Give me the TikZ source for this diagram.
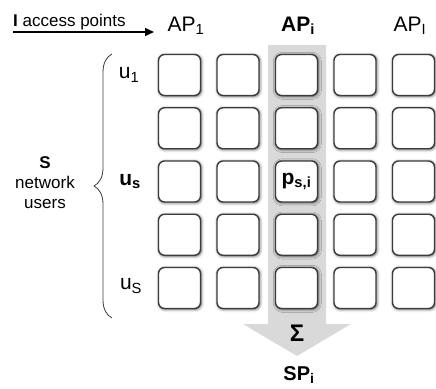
\documentclass[tikz,border=0pt]{standalone}
\usepackage{fontspec}
\setmainfont{Liberation Sans}
\usetikzlibrary{arrows.meta,shadows.blur,decorations.pathreplacing}

\definecolor{boxline}{HTML}{3C3C3C}
\definecolor{colshade}{HTML}{D9D9D9}

\tikzset{
  cell/.style={draw=boxline, line width=1.4pt, fill=white, rounded corners=6pt,
    minimum width=42pt, minimum height=41pt, inner sep=0pt,
    blur shadow={shadow xshift=0.8pt, shadow yshift=-0.8pt,
      shadow blur radius=3pt, shadow opacity=70}},
  lbl/.style={font=\fontsize{21}{25}\selectfont, inner sep=0pt},
  small/.style={font=\fontsize{17}{20}\selectfont, inner sep=0pt},
}

\begin{document}
\begin{tikzpicture}[x=1pt,y=-1pt]
  \useasboundingbox (0,0) rectangle (436,388);
  % shaded column and sum arrow
  \fill[colshade] (268,45) -- (326,45) -- (326,324) -- (351,324) -- (297,356)
    -- (243,324) -- (268,324) -- cycle;
  % grid of cells
  \foreach \r in {1,...,5}
    \foreach \c in {1,...,5}
      \node[cell] (B\r\c) at ({179.5+58.5*(\c-1)}, {75+53.25*(\r-1)}) {};
  \node[lbl, font=\bfseries\fontsize{21}{25}\selectfont] (P) at (B33) {p\textsubscript{s,i}};
  % access points
  \node[small, anchor=base west] (ACC) at (13,26) {\textbf{I} access points};
  \coordinate (AS) at (13,32);
  \coordinate (AE) at (154,32);
  \draw [-{Triangle[length=9pt,width=8pt]}, line width=1.4pt] (AS) -- (AE);
  \node[lbl, anchor=base] (AP1) at (186,31) {AP\textsubscript{1}};
  \node[lbl, anchor=base, font=\bfseries\fontsize{21}{25}\selectfont] (APi) at (298,31) {AP\textsubscript{i}};
  \node[lbl, anchor=base] (APl) at (410,31) {AP\textsubscript{I}};
  % users
  \node[lbl] (U1) at (129,75) {u\textsubscript{1}};
  \node[lbl, font=\bfseries\fontsize{21}{25}\selectfont] (Us) at (130,181.5) {u\textsubscript{s}};
  \node[lbl] (US) at (131,286) {u\textsubscript{S}};
  \coordinate (BT) at (112,54);
  \coordinate (BB) at (112,318);
  \draw [decorate, decoration={brace, amplitude=18pt}, line width=0.8pt, boxline] (BB) -- (BT);
  \node[small, align=center] (USR) at (45,183) {\textbf{S}\\network\\users};
  % sum
  \node[font=\bfseries\fontsize{24}{28}\selectfont] (SUM) at (297,333) {Σ};
  \node[font=\bfseries\fontsize{20}{24}\selectfont, anchor=base] (SP) at (299,380) {SP\textsubscript{i}};
\end{tikzpicture}
\end{document}
